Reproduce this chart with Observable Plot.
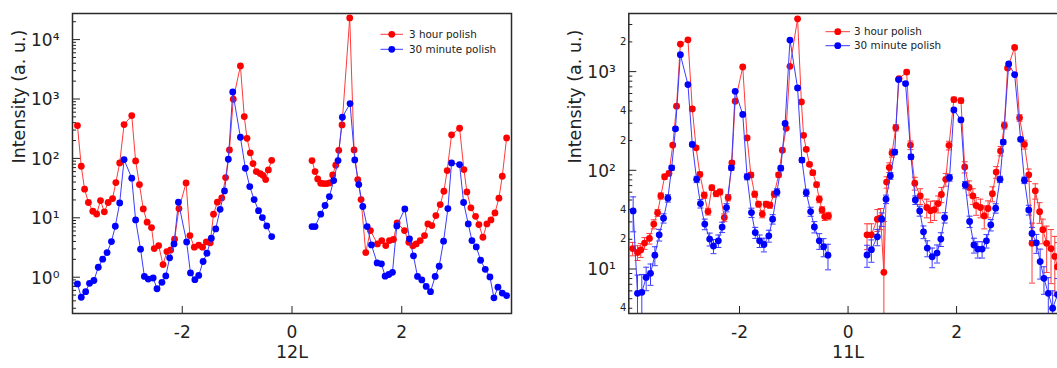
<!DOCTYPE html>
<html><head><meta charset="utf-8">
<script src="https://cdn.jsdelivr.net/npm/d3@7"></script>
<script src="https://cdn.jsdelivr.net/npm/@observablehq/plot@0.6"></script>
<style>
html,body{margin:0;padding:0;background:#fff;overflow:hidden;}
#wrap{position:relative;width:1057px;height:368px;overflow:hidden;font-family:"DejaVu Sans",sans-serif;}
.panel{position:absolute;top:0;}
#legend{position:absolute;left:0;top:0;}
</style></head>
<body><div id="wrap"></div>
<script>
// ---------- data: 12L panel (L, intensity) ----------
const red12 = [[-3.91,357],[-3.84,73.8],[-3.78,30.3],[-3.71,18.1],[-3.63,12.9],[-3.56,11.6],[-3.49,19.5],[-3.42,12.6],[-3.35,18.1],[-3.27,21.1],[-3.21,39.2],[-3.14,84],[-3.06,371],[-2.92,526],[-2.85,90.8],[-2.78,36.3],[-2.71,14.1],[-2.64,8.43],[-2.56,6.86],[-2.51,3.04],[-2.43,3.41],[-2.35,1.63],[-2.28,2.7],[-2.21,2.88],[-2.14,4.36],[-2.06,14.3],[-1.93,38.7],[-1.86,5.03],[-1.78,3.2],[-1.7,3.46],[-1.63,3.2],[-1.56,3.93],[-1.49,3.79],[-1.43,11.5],[-1.36,18.3],[-1.28,21.6],[-1.21,47.6],[-1.14,139],[-1.07,990],[-0.94,3600],[-0.87,506],[-0.82,218],[-0.76,124],[-0.71,82],[-0.65,60],[-0.58,55.6],[-0.53,52],[-0.48,44],[-0.43,64],[-0.37,93],
[0.365,92],[0.42,60],[0.468,45.2],[0.523,38.2],[0.578,37.7],[0.633,37.7],[0.687,38.7],[0.742,52.7],[0.797,76.7],[0.852,137],[0.912,366],[1.052,23200],[1.131,139],[1.198,44],[1.259,20.3],[1.344,2.6],[1.429,6.1],[1.557,3.64],[1.636,4.14],[1.709,3.41],[1.776,4.14],[1.849,4.31],[1.916,8.21],[2.05,6.1],[2.129,3.88],[2.202,3.37],[2.263,3.64],[2.336,4.14],[2.415,5.03],[2.476,7.9],[2.549,7.41],[2.622,10.9],[2.701,16.7],[2.768,28],[2.828,62.4],[2.908,249],[3.054,322],[3.133,64.9],[3.187,27.3],[3.26,14.7],[3.345,10.6],[3.406,7.7],[3.479,4.71],[3.552,7.9],[3.625,9.22],[3.698,12.1],[3.771,21.4],[3.832,50.1],[3.911,221]];

const blue12 = [[-3.91,0.77],[-3.84,0.46],[-3.76,0.57],[-3.69,0.79],[-3.61,0.88],[-3.53,1.47],[-3.45,2.01],[-3.37,2.6],[-3.29,3.98],[-3.22,7.21],[-3.14,17.8],[-3.06,95.6],[-2.92,46.4],[-2.85,9.22],[-2.76,2.96],[-2.69,1.03],[-2.62,0.93],[-2.53,0.97],[-2.46,0.64],[-2.37,0.82],[-2.3,1.05],[-2.23,2.12],[-2.15,3.64],[-2.07,18.3],[-1.92,3.93],[-1.85,1.18],[-1.77,0.91],[-1.7,1.07],[-1.62,1.84],[-1.55,2.53],[-1.47,4.53],[-1.39,6.51],[-1.31,13.9],[-1.23,28.4],[-1.16,96.8],[-1.08,1316],[-0.94,227],[-0.85,68.3],[-0.77,33.6],[-0.69,20.3],[-0.61,13.2],[-0.54,10.1],[-0.46,7.31],[-0.37,4.83],
[0.365,7.13],[0.42,7.13],[0.523,11.5],[0.602,16.1],[0.681,22.8],[0.76,42.4],[0.839,92],[0.918,493],[1.058,838],[1.144,94.4],[1.217,36.3],[1.29,15.5],[1.369,7.13],[1.448,3.5],[1.551,1.74],[1.63,1.68],[1.697,1.04],[1.764,1.11],[1.831,1.21],[1.91,7.31],[2.056,14.1],[2.141,4.42],[2.214,2.29],[2.287,1.03],[2.366,0.9],[2.445,0.7],[2.524,0.57],[2.609,1.03],[2.682,1.53],[2.762,4.04],[2.841,14.3],[2.908,84],[3.054,78.7],[3.127,18.1],[3.212,7.9],[3.279,4.14],[3.358,3.24],[3.437,1.93],[3.522,1.36],[3.607,1.01],[3.68,0.45],[3.753,0.68],[3.832,0.54],[3.911,0.49]];

// ---------- data: 11L panel (L, intensity, error) ----------
const red11 = [[-3.97,16.1,2.5],[-3.88,14.7,2.5],[-3.82,15.6,2.5],[-3.75,18.3,2.5],[-3.66,20.4,2.5],[-3.58,28.5,3],[-3.51,37.1,3],[-3.45,55,4],[-3.38,86,5],[-3.3,93,5],[-3.23,180,7],[-3.16,446,10],[-3.09,1900,20],[-2.95,2100,20],[-2.87,419,10],[-2.8,169,7],[-2.73,91,5],[-2.65,56,4],[-2.58,38.2,3],[-2.51,66.7,4],[-2.43,58,4],[-2.36,60.4,4],[-2.28,33.2,3],[-2.21,52.9,4],[-2.14,119,5],[-2.08,501,11],[-1.94,1113,16],[-1.86,213,7],[-1.79,89.7,5],[-1.72,57.3,4],[-1.65,45.4,3],[-1.58,36,3],[-1.51,45.4,3],[-1.44,44.3,3],[-1.36,57.3,4],[-1.28,90,5],[-1.21,160,6],[-1.14,266,8],[-1.07,1132,16],[-0.93,3430,28],[-0.86,493,11],[-0.82,226,7],[-0.77,163,6],[-0.71,115,5],[-0.65,94.6,5],[-0.58,71.6,4],[-0.53,50.9,4],[-0.48,39.7,3],[-0.43,34,3],[-0.36,34.5,3],
[0.35,22.2,6.5],[0.43,22.2,6.5],[0.54,32,8],[0.6,33,8],[0.66,9.25,21],[0.71,76,10],[0.76,107,12],[0.81,150,14],[0.88,270,20],[0.94,850,40],[1.08,990,45],[1.15,180,18],[1.23,74,11],[1.33,55,10],[1.45,42,9],[1.52,39,9.5],[1.59,40,9],[1.66,46,9],[1.72,57,10],[1.8,81,12],[1.86,179,18],[1.95,521,30],[2.08,509,30],[2.15,108,14],[2.23,67,11],[2.3,55,10],[2.36,44,9],[2.44,42,9],[2.51,34.5,9],[2.58,41,8],[2.66,58,10],[2.73,96,13],[2.81,157,17],[2.88,285,23],[2.94,1087,45],[3.07,1759,58],[3.16,340,26],[3.25,183,19],[3.33,90,13],[3.39,18.2,11],[3.45,62,11],[3.53,38,9],[3.59,25,7],[3.66,18.2,9],[3.74,16.1,9],[3.81,13.4,8],[3.86,10.5,8]];

const blue11 = [[-3.96,38.8,15],[-3.88,5.67,3],[-3.8,5.8,3],[-3.72,8.22,2.2],[-3.64,9.03,2.2],[-3.56,13.8,3],[-3.48,22.2,3],[-3.4,32.7,3.5],[-3.32,52.1,4.5],[-3.25,106,6],[-3.18,263,10],[-3.09,1486,25],[-2.95,739,18],[-2.87,183,9],[-2.79,81,6],[-2.72,46,4.5],[-2.64,28.5,3.5],[-2.55,20.1,3],[-2.48,17.1,2.8],[-2.39,19.3,2.8],[-2.32,26.6,3.2],[-2.24,41.9,4],[-2.15,106,6],[-2.08,632,16],[-1.94,368,12],[-1.86,86,6],[-1.78,37.3,4],[-1.71,23.4,3],[-1.63,19.3,2.8],[-1.55,17.7,2.8],[-1.46,21.7,3],[-1.39,32,3.5],[-1.31,60,5],[-1.24,105,6],[-1.16,298,11],[-1.07,2085,30],[-0.93,683,17],[-0.85,127,7],[-0.77,59.4,5],[-0.69,38.2,4],[-0.62,26.7,3.5],[-0.53,19.3,3.5],[-0.45,16.8,3.5],[-0.37,13.8,4],
[0.35,13.9,3.5],[0.43,15.7,4],[0.54,21.2,4],[0.62,32,5],[0.7,51,5],[0.78,88,7],[0.86,153,9],[0.93,830,20],[1.06,757,20],[1.16,137,8],[1.24,50,5],[1.32,38.8,4.5],[1.39,23.8,3.5],[1.46,16.3,3],[1.55,13.3,3],[1.64,14.5,3],[1.71,20.1,3.2],[1.78,33.2,4],[1.87,84,6.5],[1.95,409,14],[2.08,324,13],[2.16,71,6],[2.24,30.3,4],[2.32,17.5,3],[2.39,15.9,3],[2.47,15.9,3],[2.55,19.3,3],[2.63,28,3.7],[2.72,41.3,4.5],[2.8,81,6],[2.86,193,10],[2.96,1194,24],[3.07,933,21],[3.18,206,10],[3.25,79.3,6],[3.33,39.7,4.5],[3.39,22.9,3.5],[3.47,18.4,4],[3.54,11.9,4],[3.61,8.04,2.5],[3.69,5.67,2.5],[3.77,4.0,2],[3.86,5.5,2.5]];

// ---------- ticks & labels ----------
const xTicks = [-2, 0, 2];
const majors12 = [1, 10, 100, 1000, 10000];
const majors11 = [10, 100, 1000];
const minorLabels11 = [4, 20, 40, 200, 400, 2000];
const seriesNames = ["3 hour polish", "30 minute polish"];
const yTitle = "Intensity (a. u.)";

const RED = "#ff0000", BLUE = "#0000ff";
const RED_LINE = "#ff3b3b", BLUE_LINE = "#3b3bff";
const INK = "#222";
const SUP = {"0":"⁰","1":"¹","2":"²","3":"³","4":"⁴","5":"⁵","-":"⁻"};
const pow10 = d => "10" + String(Math.round(Math.log10(d))).split("").map(c => SUP[c]).join("");
const mantissa = d => String(Math.round(d / 10 ** Math.floor(Math.log10(d) + 1e-9)));

const capSymbol = {draw(ctx) { ctx.moveTo(-3, 0); ctx.lineTo(3, 0); }};

function rows(arr, series, ylo) {
  return arr.map(([L, v, e]) => ({
    L, v, series, seg: L < 0 ? 0 : 1,
    lo: e != null ? Math.max(v - e, ylo * 0.5) : null,
    hi: e != null ? v + e : null
  }));
}

function panel({red, blue, xDomain, yDomain, width, ml, mr, majors, minorLabels, xLabel, errors}) {
  const H = 368, mt = 13, mb = 55;
  const kx = (width - ml - mr) / (xDomain[1] - xDomain[0]);
  const ky = (H - mt - mb) / (Math.log10(yDomain[1]) - Math.log10(yDomain[0]));
  const x0 = xDomain[0], y0 = yDomain[0];
  const minors = [];
  for (let e = Math.floor(Math.log10(y0)); e <= Math.ceil(Math.log10(yDomain[1])); e++)
    for (let m = 2; m <= 9; m++) { const v = m * 10 ** e; if (v >= y0 && v <= yDomain[1]) minors.push(v); }
  const R = rows(red, "red", y0), B = rows(blue, "blue", y0);
  const marks = [
    Plot.ruleY(majors, {x1: x0, x2: x0 + 8 / kx, stroke: INK, strokeWidth: 1}),
    Plot.ruleY(minors, {x1: x0, x2: x0 + 4 / kx, stroke: INK, strokeWidth: 1}),
    Plot.ruleX(xTicks, {y1: y0, y2: y0 * 10 ** (7 / ky), stroke: INK, strokeWidth: 1}),
    Plot.text(majors, {y: d => d, frameAnchor: "left", textAnchor: "end", dx: -13, dy: 1, text: pow10, fontSize: 17, fill: INK}),
    Plot.text(xTicks, {x: d => d, frameAnchor: "bottom", lineAnchor: "top", dy: 12, text: d => String(d), fontSize: 17, fill: INK})
  ];
  if (minorLabels) marks.push(Plot.text(minorLabels, {y: d => d, frameAnchor: "left", textAnchor: "end", dx: -2.5, text: mantissa, fontSize: 10, fill: INK}));
  for (const [D, dot, line] of [[R, RED, RED_LINE], [B, BLUE, BLUE_LINE]]) {
    if (errors) {
      marks.push(
        Plot.ruleX(D, {x: "L", y1: "lo", y2: "hi", stroke: line, strokeWidth: 1, clip: true}),
        Plot.dot(D, {x: "L", y: "lo", symbol: capSymbol, stroke: line, fill: "none", strokeWidth: 1, clip: true}),
        Plot.dot(D, {x: "L", y: "hi", symbol: capSymbol, stroke: line, fill: "none", strokeWidth: 1, clip: true})
      );
    }
    marks.push(Plot.line(D, {x: "L", y: "v", z: "seg", stroke: line, strokeWidth: 1, clip: true}));
    marks.push(Plot.dot(D, {x: "L", y: "v", r: 3.4, fill: dot, stroke: "none", clip: true}));
  }
  marks.push(
    Plot.frame({stroke: "#2a2a2a", strokeWidth: 1.5}),
    Plot.text([yTitle], {frameAnchor: "left", rotate: -90, dx: -53, fontSize: 17.5, fill: INK}),
    Plot.text([xLabel], {frameAnchor: "bottom", dy: 44, fontSize: 17.5, fill: INK})
  );
  return Plot.plot({
    width, height: H, marginLeft: ml, marginRight: mr, marginTop: mt, marginBottom: mb,
    x: {domain: xDomain, axis: null},
    y: {type: "log", domain: yDomain, axis: null},
    style: {fontFamily: "'DejaVu Sans', sans-serif", fontSize: "17px", background: "white", overflow: "visible"},
    marks
  });
}

const wrap = document.getElementById("wrap");
const p1 = panel({red: red12, blue: blue12, xDomain: [-4, 4], yDomain: [0.245, 27500], width: 530, ml: 72, mr: 19,
  majors: majors12, minorLabels: null, xLabel: "12L", errors: false});
p1.classList.add("panel"); p1.style.left = "0px";
wrap.appendChild(p1);
const p2 = panel({red: red11, blue: blue11, xDomain: [-4.04, 4.04], yDomain: [3.54, 3880], width: 546, ml: 88.3, mr: 19.2,
  majors: majors11, minorLabels: minorLabels11, xLabel: "11L", errors: true});
p2.classList.add("panel"); p2.style.left = "540px";
wrap.appendChild(p2);

// ---------- legends (overlay) ----------
const lg = d3.select(wrap).append("svg").attr("id", "legend").attr("width", 1057).attr("height", 368)
  .style("font-family", "'DejaVu Sans', sans-serif");
function legend(x1, x2, tx, y, dyRow) {
  [[RED, RED_LINE], [BLUE, BLUE_LINE]].forEach(([dot, line], i) => {
    const yy = y + i * dyRow;
    lg.append("line").attr("x1", x1).attr("x2", x2).attr("y1", yy).attr("y2", yy).attr("stroke", line).attr("stroke-width", 1);
    lg.append("circle").attr("cx", (x1 + x2) / 2).attr("cy", yy).attr("r", 3.4).attr("fill", dot);
    lg.append("text").attr("x", tx).attr("y", yy).attr("dy", "0.35em").attr("font-size", 10.4).attr("fill", INK).text(seriesNames[i]);
  });
}
legend(380.5, 403, 409, 34.3, 15);
legend(825.5, 850, 854, 31.7, 14);
</script></body></html>
